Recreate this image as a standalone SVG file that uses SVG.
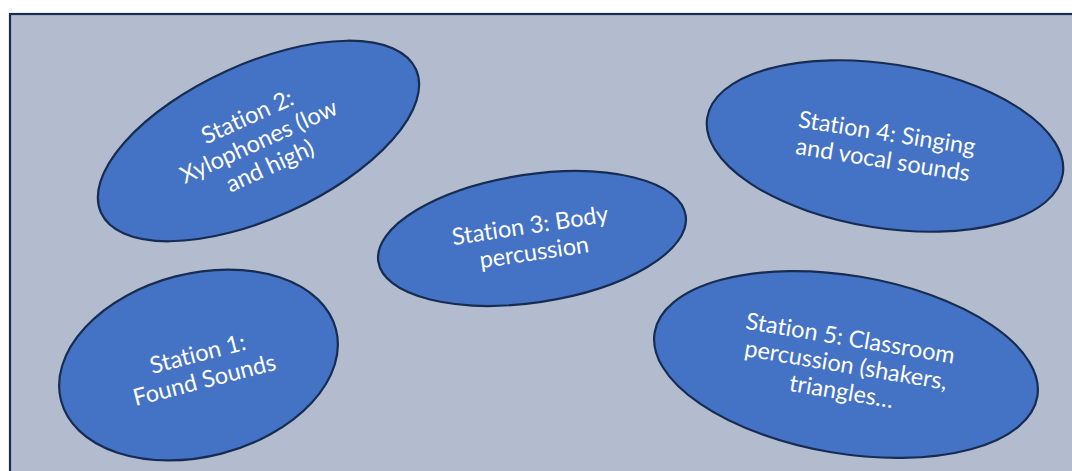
<svg xmlns="http://www.w3.org/2000/svg" width="1072" height="471" viewBox="0 0 1072 471">
<style>
.bg{fill:#b3bccf;stroke:#172c51;stroke-width:2.2}
.st{fill:#4472c4;stroke:#172c51;stroke-width:2.2}
.lb{font-family:Lato,"Open Sans","Liberation Sans",sans-serif;font-size:23.5px;fill:#ffffff;text-anchor:middle;font-variant-ligatures:none;font-feature-settings:"liga" 0}
</style>
<rect x="0" y="0" width="1072" height="471" fill="#ffffff"/>
<rect class="bg" x="10" y="14" width="1080" height="480"/>
<g id="station1" transform="translate(198.5,365) rotate(-14.5)">
<ellipse class="st" cx="0" cy="0" rx="142" ry="91.5"/>
<text class="lb"><tspan x="2" y="-3">Station 1:</tspan><tspan x="2" y="24">Found Sounds</tspan></text>
</g>
<g id="station2" transform="translate(258.5,141) rotate(-24.5)">
<ellipse class="st" cx="0" cy="0" rx="173" ry="77"/>
<text class="lb"><tspan x="0" y="-18.6">Station 2:</tspan><tspan x="0" y="8.4">Xylophones (low</tspan><tspan x="0" y="35.4">and high)</tspan></text>
</g>
<g id="station3" transform="translate(532,238.5) rotate(-8.5)">
<ellipse class="st" cx="0" cy="0" rx="155.4" ry="64"/>
<text class="lb"><tspan x="0" y="-5.1">Station 3: Body</tspan><tspan x="0" y="21.9">percussion</tspan></text>
</g>
<g id="station4" transform="translate(885,146) rotate(9)">
<ellipse class="st" cx="0" cy="0" rx="180" ry="82"/>
<text class="lb"><tspan x="0" y="-5.1">Station 4: Singing</tspan><tspan x="0" y="21.9">and vocal sounds</tspan></text>
</g>
<g id="station5" transform="translate(846,364.5) rotate(9.5)">
<ellipse class="st" cx="0" cy="0" rx="194" ry="89"/>
<text class="lb"><tspan x="0" y="-18.6">Station 5: Classroom</tspan><tspan x="0" y="8.4">percussion (shakers,</tspan><tspan x="0" y="35.4">triangles…</tspan></text>
</g>
<g id="connectors"/>
</svg>
